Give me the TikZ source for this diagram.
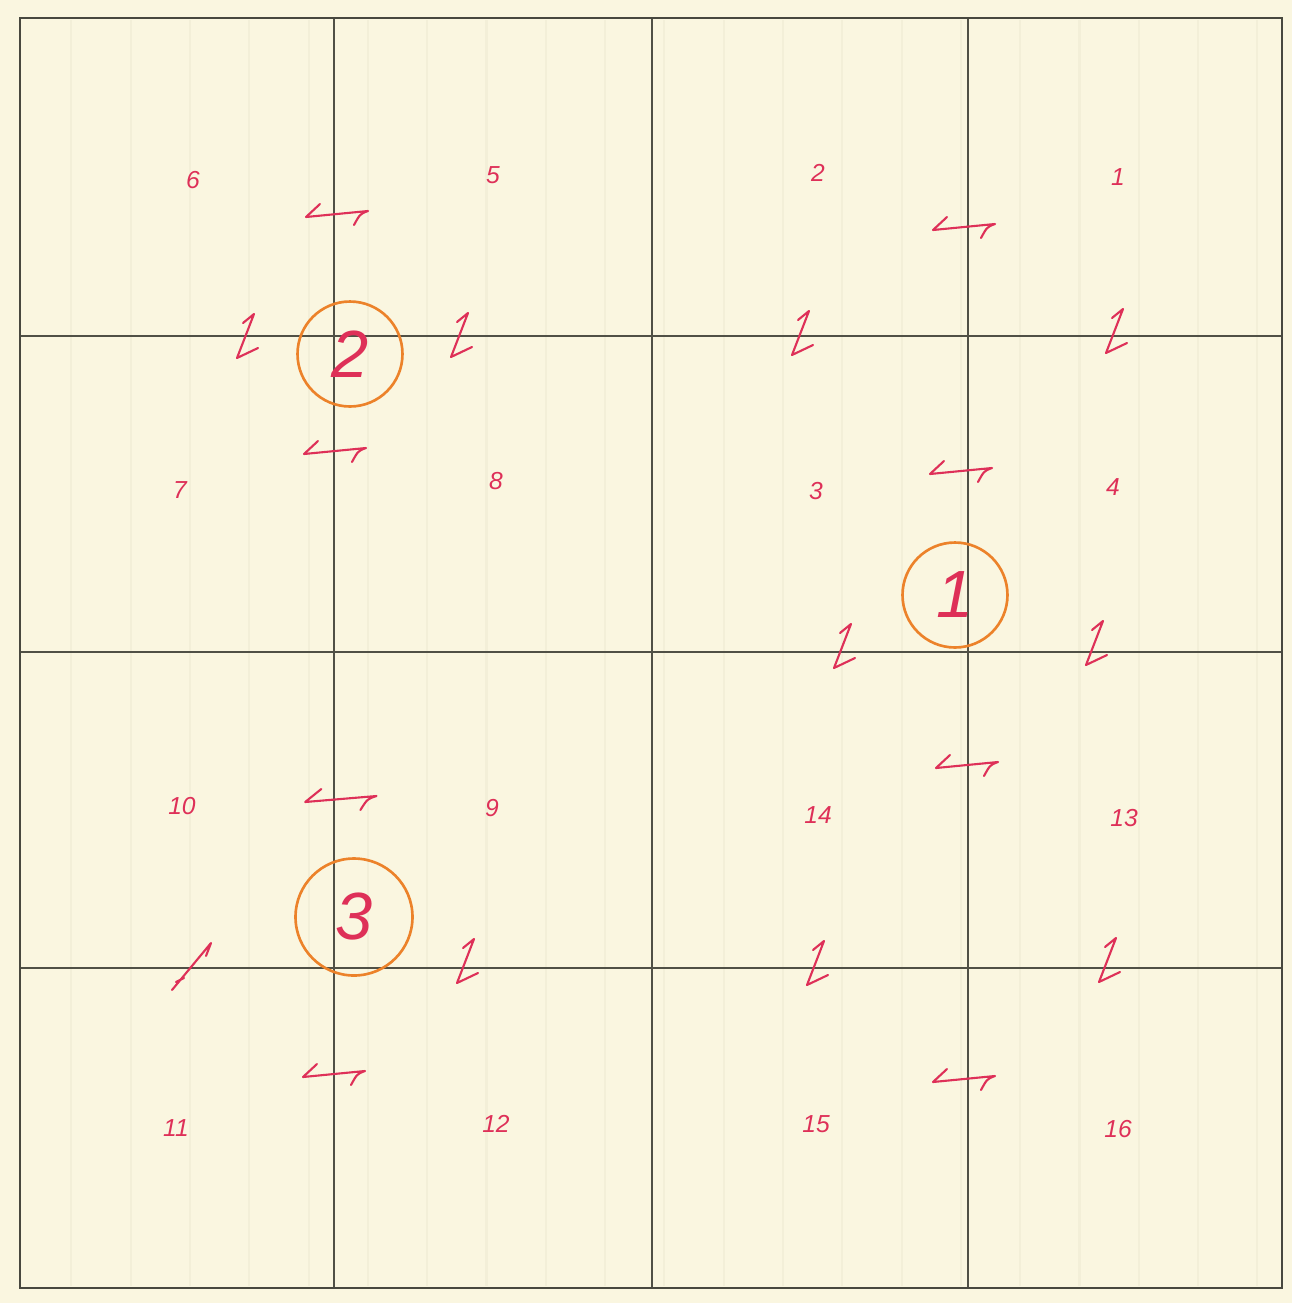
\documentclass[tikz,border=0pt]{standalone}
\usepackage{fontspec}
\setmainfont{Liberation Sans}
\definecolor{paper}{RGB}{250,246,224}
\definecolor{ink}{RGB}{222,48,88}
\definecolor{orng}{RGB}{236,130,42}
\definecolor{gridc}{RGB}{80,80,70}
\definecolor{rulec}{RGB}{243,239,216}
\begin{document}
\begin{tikzpicture}[x=0.02cm,y=-0.02cm,
  num/.style={text=ink,inner sep=0pt,font=\itshape\fontsize{14}{14}\selectfont},
  ring/.style={circle,draw=orng,line width=1.5pt,minimum size=2.1cm,inner sep=0pt,text=ink,font=\fontsize{38}{38}\selectfont},
  gridline/.style={draw=gridc,line width=0.9pt},
  frameline/.style={draw=gridc!90!black,line width=1.6pt},
  inkline/.style={draw=ink,line width=1.2pt,line cap=round,line join=round},
  hk/.pic={\draw[inkline] (-18,-11) -- (-32,2) -- (30,-4) .. controls (22,-1) .. (16,10);},
  onemark/.pic={\draw[inkline] (-5,-15) -- (6,-24) -- (-11,20) -- (10,10);}
]
% paper and bounding box
\fill[paper] (0,0) rectangle (1292,1303);
\useasboundingbox (0,0) rectangle (1292,1303);
% faint paper rulings
\foreach \k in {0,...,20}{
  \draw[rulec,line width=1.2pt] ({71.4+59.3*\k},20) -- ({71.4+59.3*\k},1286);
}
% grid
\coordinate (TL) at (20,18);
\coordinate (BR) at (1282,1288);
\foreach \gx in {334,652,968}{\draw[gridline] (\gx,18) -- (\gx,1288);}
\foreach \gy in {336,652,968}{\draw[gridline] (20,\gy) -- (1282,\gy);}
\draw[frameline] (TL) rectangle (BR);

% numbered cells
\node[num] (n6) at (193,180) {6};
\node[num] (n5) at (493,175) {5};
\node[num] (n2) at (818,173) {2};
\node[num] (n1) at (1118,177) {1};
\node[num] (n7) at (180,490) {7};
\node[num] (n8) at (496,481) {8};
\node[num] (n3) at (816,491) {3};
\node[num] (n4) at (1113,487) {4};
\node[num] (n10) at (182,806) {10};
\node[num] (n9) at (492,808) {9};
\node[num] (n14) at (818,815) {14};
\node[num] (n13) at (1124,818) {13};
\node[num] (n11) at (176,1128) {11};
\node[num] (n12) at (496,1124) {12};
\node[num] (n15) at (816,1124) {15};
\node[num] (n16) at (1118,1129) {16};

% circled numbers
\node[ring] (c2) at (350,354) {\itshape 2};
\node[ring] (c1) at (955,595) {\itshape 1};
\node[ring,minimum size=2.34cm] (c3) at (354,917) {\itshape 3};

% half-arrow marks
\pic at (338,215) {hk};
\pic at (965,228) {hk};
\pic at (336,452) {hk};
\pic at (962,472) {hk};
\pic at (968,766) {hk};
\pic[xscale=1.15] at (342,800) {hk};
\pic at (335,1075) {hk};
\pic at (965,1080) {hk};

% one marks
\pic at (248,338) {onemark};
\pic at (462,337) {onemark};
\pic at (803,335) {onemark};
\pic at (1117,333) {onemark};
\pic at (845,648) {onemark};
\pic at (1097,645) {onemark};
\pic at (468,963) {onemark};
\pic at (818,965) {onemark};
\pic at (1110,962) {onemark};
\draw[inkline] (172,990) -- (211,943) (211,943) -- (206,956) (176,982) -- (184,978);
\end{tikzpicture}
\end{document}
